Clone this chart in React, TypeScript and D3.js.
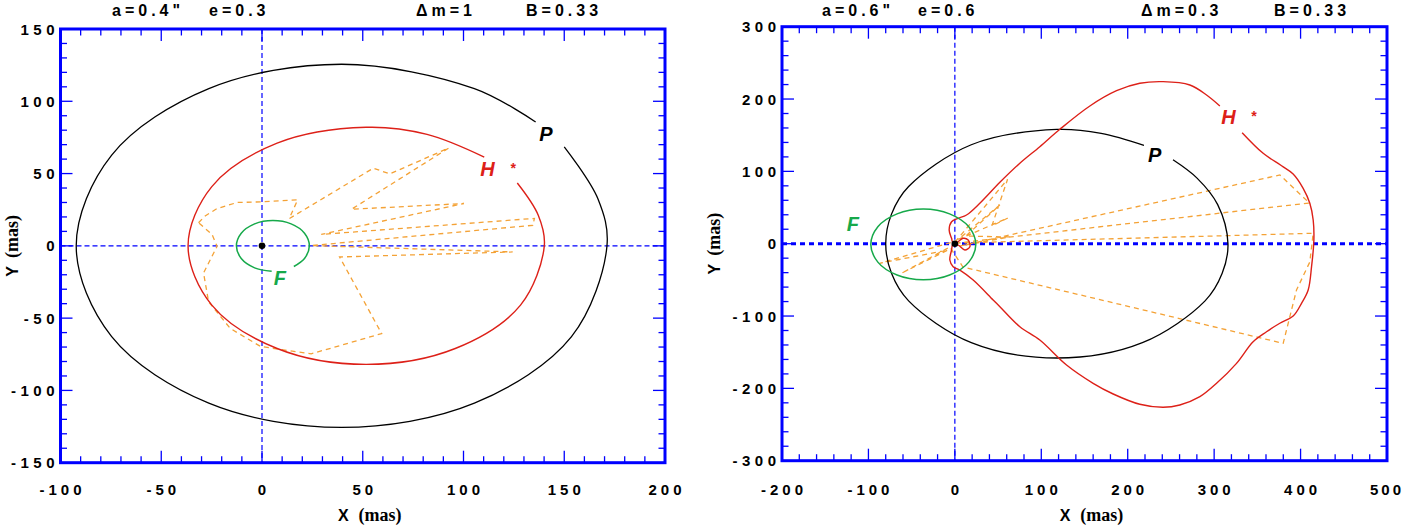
import React from 'react';
import * as d3 from 'd3';

type Pt = [number, number];

// ---- left panel : a=0.4", e=0.3 ----
const leftTitles = ['a=0.4"', 'e=0.3', 'Δm=1', 'B=0.33'];
const leftXTicks = [-100, -50, 0, 50, 100, 150, 200];
const leftYTicks = [-150, -100, -50, 0, 50, 100, 150];

// P orbit (black), open at the label
const leftP: Pt[] = [
  [135.8, 85.7], [105.4, 108.8], [39.5, 125.6], [-26.4, 108.8], [-74.6, 62.8], [-92.2, 0],
  [-74.6, -62.8], [-26.4, -108.8], [39.5, -125.6], [105.4, -108.8], [153.6, -62.8],
  [171.2, 0], [166.7, 32.5], [150.0, 68.5],
];
// H orbit (red)
const leftH: Pt[] = [
  [110.3, 61.4], [81.9, 77.1], [51.7, 82], [7.5, 71], [-24.9, 41], [-36.7, 0], [-24.9, -41],
  [7.5, -71], [51.7, -82], [95.9, -71], [128.3, -41], [140.1, 0], [137.1, 21.2], [126.7, 43.5],
];
// F orbit (green)
const leftF: Pt[] = [
  [15.8, -14.3], [21.1, -8.75], [23.5, 0], [21.1, 8.75], [14.45, 15.2], [5.4, 17.5],
  [-3.65, 15.2], [-10.3, 8.75], [-12.7, 0], [-10.3, -8.75], [-3.65, -15.2], [4.8, -17.5],
];
// apparent track (orange dashed)
const leftTrack: Pt[] = [
  [-31.5, 16.0], [-28.2, 20.7], [-22.3, 25.8], [-12.3, 30.0], [-0.7, 30.4], [17.7, 31.8],
  [13.5, 18.8], [55.2, 53.7], [63.5, 49.8], [92.7, 67.7], [44.4, 25.3], [100.2, 29.3],
  [29.4, 7.9], [135.2, 19.0], [134.4, 14.2], [24.4, 0.2], [124.4, -4.2], [38.5, -7.7],
  [59.4, -60.7], [24.4, -74.7], [12.7, -72.4], [-0.7, -69.6], [-15.7, -57.2], [-26.5, -38.7],
  [-29, -18.8], [-22.3, -0.3], [-24.8, 7.9], [-31.5, 16.0],
];

// ---- right panel : a=0.6", e=0.6 ----
const rightTitles = ['a=0.6"', 'e=0.6', 'Δm=0.3', 'B=0.33'];
const rightXTicks = [-200, -100, 0, 100, 200, 300, 400, 500];
const rightYTicks = [-300, -200, -100, 0, 100, 200, 300];

const rightP: Pt[] = [
  [218.8, 136], [169.3, 152.6], [118, 158], [19, 136.8], [-53.5, 79], [-73.3, 40.9], [-80, 0],
  [-73.3, -40.9], [-53.5, -79], [19, -136.8], [118, -158], [217, -136.8], [289.5, -79],
  [309.3, -40.9], [316, 0], [304.1, 54], [280.2, 90.7], [252.4, 116],
];
const rightH: Pt[] = [
  [332.4, 153.5], [356.7, 125], [378, 107.8], [391.4, 96.4], [403, 76.6], [410.7, 55.9],
  [414.6, 32.8], [415.4, 5.1], [412.7, -31.8], [408.8, -64], [401.1, -82.4], [391.4, -100],
  [376, -110], [360.6, -121.7], [345.1, -135.5], [325.9, -165.4], [302.8, -193], [283.5, -211.5],
  [260.3, -223], [241, -226.2], [214, -222], [183.2, -207.8], [160, -193], [129.2, -167.7],
  [98.3, -133.2], [75.2, -114.8], [52.1, -87.1], [44.3, -77.8], [21.2, -50.2], [5.8, -36.4],
  [-2, -31.8], [-5.8, -22.5], [-3.8, -8.7], [-2, 0.6], [3.8, -1.8], [11.6, -8.7], [17.4, -4.1],
  [15.4, 5.1], [9.6, 7.5], [3.8, 2.8], [-2, 0.6], [-3.8, 7.5], [-6.6, 18.9], [-3.8, 30.4],
  [3.8, 35.1], [13.5, 39.7], [28.9, 55.9], [52.1, 84.9], [75.2, 111.2], [98.3, 134.1],
  [121.5, 158.2], [156.2, 190.4], [187.1, 211.5], [214, 221.8], [241, 224], [271.9, 219.4],
  [291.2, 205.6], [306.6, 190.4],
];
const rightF: Pt[] = [
  [24.25, -1], [16.1, 23.45], [-6.1, 41.3], [-36.5, 47.9], [-66.9, 41.3], [-89.1, 23.45],
  [-97.25, -1], [-89.1, -25.45], [-66.9, -43.3], [-36.5, -49.9], [-6.1, -43.3], [16.1, -25.45],
];
const rightTrack: Pt[] = [
  [5.8, -3.2], [376, 95], [410.2, 56.3], [3.5, 1], [414.6, 14.4], [410.7, -25.3], [395.3, -64],
  [379.9, -137.7], [9.3, -32.2], [-5.8, -4.6], [-61.9, -40.9], [-8.1, -8.7], [-86.8, -27.1],
  [1.2, 3.7], [61, 89], [42.8, 24.5], [61.3, 35.5], [4, 6], [52.1, 53.5], [12.7, 10.6],
  [63.6, 9.3], [5.8, -3.2],
];

const BLUE = '#0000ff';
const RED = '#dd2018';
const GREEN = '#16a94a';
const ORANGE = '#f4a236';
const SANS = '"Liberation Sans", Arial, Helvetica, sans-serif';
const SERIF = '"Liberation Serif", "Times New Roman", serif';

interface Curve { pts: Pt[]; closed?: boolean; straight?: boolean; color: string; width: number; dash?: string }
interface Label { text: string; at: Pt; color: string; size: number }

interface PanelCfg {
  left: number; right: number; top: number; bottom: number;
  xDomain: [number, number]; yDomain: [number, number];
  xTicks: number[]; yTicks: number[]; xMinor: number; yMinor: number;
  titles: string[]; titleX: number[];
  curves: Curve[]; labels: Label[];
  hZeroThick: boolean; yLabelX: number;
}

const panels: PanelCfg[] = [
  {
    left: 60.5, right: 665, top: 29, bottom: 462.7,
    xDomain: [-100, 200], yDomain: [-150, 150],
    xTicks: leftXTicks, yTicks: leftYTicks, xMinor: 10, yMinor: 10,
    titles: leftTitles, titleX: [112, 209, 416, 526],
    curves: [
      { pts: leftTrack, straight: true, color: ORANGE, width: 1.3, dash: '5,4' },
      { pts: leftP, color: '#000', width: 1.3 },
      { pts: leftH, color: RED, width: 1.4 },
      { pts: leftF, color: GREEN, width: 1.5 },
    ],
    labels: [
      { text: 'P', at: [140.9, 77.4], color: '#000', size: 20 },
      { text: 'H', at: [111.9, 53.2], color: RED, size: 20 },
      { text: '*', at: [124.4, 54.0], color: RED, size: 14 },
      { text: 'F', at: [8.9, -21.9], color: GREEN, size: 20 },
    ],
    hZeroThick: false, yLabelX: 18,
  },
  {
    left: 782, right: 1387, top: 26.7, bottom: 460.7,
    xDomain: [-200, 500], yDomain: [-300, 300],
    xTicks: rightXTicks, yTicks: rightYTicks, xMinor: 20, yMinor: 20,
    titles: rightTitles, titleX: [822, 918, 1141, 1274],
    curves: [
      { pts: rightTrack, straight: true, color: ORANGE, width: 1.3, dash: '5,4' },
      { pts: rightP, color: '#000', width: 1.3 },
      { pts: rightH, color: RED, width: 1.4 },
      { pts: rightF, closed: true, color: GREEN, width: 1.5 },
    ],
    labels: [
      { text: 'P', at: [231.1, 122.6], color: '#000', size: 20 },
      { text: 'H', at: [316.7, 175.2], color: RED, size: 20 },
      { text: '*', at: [345.6, 177], color: RED, size: 14 },
      { text: 'F', at: [-118, 27.9], color: GREEN, size: 20 },
    ],
    hZeroThick: true, yLabelX: 720,
  },
];

const LS = 4;
const PAGE_W = 1406;

function Panel({ cfg }: { cfg: PanelCfg }) {
  const x = d3.scaleLinear().domain(cfg.xDomain).range([cfg.left, cfg.right]);
  const y = d3.scaleLinear().domain(cfg.yDomain).range([cfg.bottom, cfg.top]);
  const open = d3.line<Pt>().x(d => x(d[0])).y(d => y(d[1])).curve(d3.curveCatmullRom.alpha(0.5));
  const closed = d3.line<Pt>().x(d => x(d[0])).y(d => y(d[1])).curve(d3.curveCatmullRomClosed.alpha(0.5));
  const straight = d3.line<Pt>().x(d => x(d[0])).y(d => y(d[1]));

  const xMinor = d3.range(cfg.xDomain[0], cfg.xDomain[1] + 1e-6, cfg.xMinor);
  const yMinor = d3.range(cfg.yDomain[0], cfg.yDomain[1] + 1e-6, cfg.yMinor);
  const isMajX = (v: number) => cfg.xTicks.includes(v);
  const isMajY = (v: number) => cfg.yTicks.includes(v);
  const midX = (cfg.left + cfg.right) / 2;
  const midY = (cfg.top + cfg.bottom) / 2;

  return (
    <g>
      {cfg.titles.map((t, i) => (
        <text key={t + i} x={cfg.titleX[i]} y={16} fontFamily={SANS} fontWeight="bold" fontSize={16}
          letterSpacing={LS}>{t}</text>
      ))}

      {/* zero lines */}
      <line x1={cfg.left} x2={cfg.right} y1={y(0)} y2={y(0)} stroke={BLUE}
        strokeWidth={cfg.hZeroThick ? 3 : 1.2} strokeDasharray={cfg.hZeroThick ? '5,4' : '5,3'} />
      <line x1={x(0)} x2={x(0)} y1={cfg.top} y2={cfg.bottom} stroke={BLUE} strokeWidth={1.2} strokeDasharray="5,3" />

      {cfg.curves.map((c, i) => (
        <path key={i} d={(c.straight ? straight : c.closed ? closed : open)(c.pts) || ''}
          fill="none" stroke={c.color} strokeWidth={c.width} strokeDasharray={c.dash} />
      ))}

      <circle cx={x(0)} cy={y(0)} r={3.3} fill="#000" />

      {cfg.labels.map((l, i) => (
        <text key={i} x={x(l.at[0])} y={y(l.at[1])} dy="0.36em" textAnchor="middle" fill={l.color}
          fontFamily={SANS} fontWeight="bold" fontStyle="italic" fontSize={l.size}>{l.text}</text>
      ))}

      {/* ticks on all four sides */}
      {xMinor.map(v => {
        const len = isMajX(v) ? 12 : 6.5;
        return (
          <g key={'x' + v} stroke={BLUE} strokeWidth={1.3}>
            <line x1={x(v)} x2={x(v)} y1={cfg.bottom} y2={cfg.bottom - len} />
            <line x1={x(v)} x2={x(v)} y1={cfg.top} y2={cfg.top + len} />
          </g>
        );
      })}
      {yMinor.map(v => {
        const len = isMajY(v) ? 12 : 6.5;
        return (
          <g key={'y' + v} stroke={BLUE} strokeWidth={1.3}>
            <line x1={cfg.left} x2={cfg.left + len} y1={y(v)} y2={y(v)} />
            <line x1={cfg.right} x2={cfg.right - len} y1={y(v)} y2={y(v)} />
          </g>
        );
      })}
      <rect x={cfg.left} y={cfg.top} width={cfg.right - cfg.left} height={cfg.bottom - cfg.top}
        fill="none" stroke={BLUE} strokeWidth={3} />

      {cfg.xTicks.map(v => {
        const nearEdge = x(v) > PAGE_W - 22;
        return (
          <text key={'xl' + v} x={nearEdge ? PAGE_W - 2 : x(v) + LS / 2} y={495}
            textAnchor={nearEdge ? 'end' : 'middle'} fontFamily={SANS}
            fontWeight="bold" fontSize={15} letterSpacing={nearEdge ? 3 : LS}>{String(v)}</text>
        );
      })}
      {cfg.yTicks.map(v => (
        <text key={'yl' + v} x={cfg.left - 1.5} y={y(v) + 5.5} textAnchor="end" fontFamily={SANS}
          fontWeight="bold" fontSize={15} letterSpacing={LS + 0.5}>{String(v)}</text>
      ))}

      <text x={midX + 7} y={521} textAnchor="middle" fontSize={18}>
        <tspan fontFamily={SANS} fontWeight="bold" fontSize={16}>X</tspan>
        <tspan fontFamily={SERIF} fontWeight="bold" dx={10}>(mas)</tspan>
      </text>
      <text transform={`translate(${cfg.yLabelX},${midY}) rotate(-90)`} textAnchor="middle" fontSize={18}>
        <tspan fontFamily={SANS} fontWeight="bold" fontSize={16}>Y</tspan>
        <tspan fontFamily={SERIF} fontWeight="bold" dx={8}>(mas)</tspan>
      </text>
    </g>
  );
}

export default function App() {
  return (
    <svg width={1406} height={526} style={{ position: 'absolute', left: 0, top: 0, background: '#fff' }}>
      {panels.map((p, i) => <Panel key={i} cfg={p} />)}
    </svg>
  );
}
